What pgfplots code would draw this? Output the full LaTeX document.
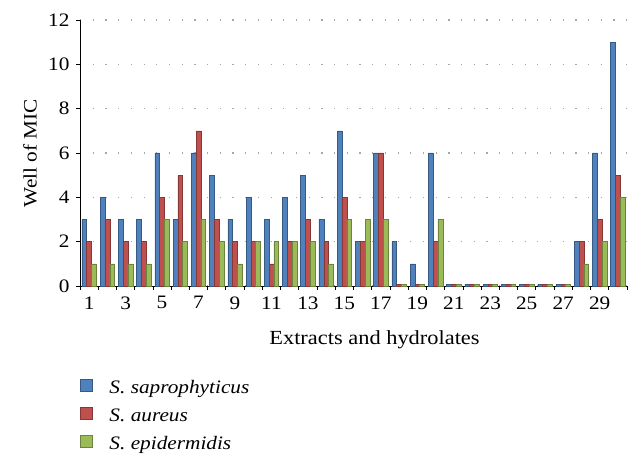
\documentclass[border=0pt]{standalone}
\usepackage{pgfplots}
\pgfplotsset{compat=1.18}
\usepackage{fontspec}
\setmainfont[FakeStretch=1.12]{Liberation Serif}
\definecolor{cb}{HTML}{4F81BD}
\definecolor{cr}{HTML}{C0504D}
\definecolor{cg}{HTML}{9BBB59}
\begin{document}
\fontsize{19}{23}\selectfont
\begin{tikzpicture}
\begin{axis}[
  name=ax,
  scale only axis, width=547pt, height=266pt,
  ybar=0pt, bar width=4.8pt,
  xmin=0.5, xmax=30.5, ymin=0, ymax=12,
  axis x line=bottom, axis y line=left,
  axis line style={-, black, line width=1pt},
  xtick={1,3,...,29}, major x tick style={draw=none},
  minor xtick={0.5,1.5,...,30.5},
  minor x tick style={black, line width=0.8pt},
  ytick={0,2,...,12},
  ytick style={black, line width=0.8pt},
  tick align=outside, major tick length=4pt, minor tick length=4pt,
  ymajorgrids, grid style={gray!70, dash pattern=on 1.2pt off 11.5pt, line width=1.2pt},
  /pgf/number format/assume math mode=true,
  ticklabel style={font=\fontsize{19}{23}\selectfont},
  ylabel={Well of MIC},
  ylabel style={font=\fontsize{19}{23}\selectfont, at={(axis description cs:0,0.5)}, anchor=center, yshift=50pt},
  xlabel={Extracts and hydrolates},
  xlabel style={font=\fontsize{20}{24}\selectfont, at={(axis description cs:0.5,0)}, anchor=center, xshift=21pt, yshift=-54pt},
  legend style={at={(axis description cs:0,0)}, anchor=north west, yshift=-93pt,
    draw=none, fill=none, inner sep=0pt, outer sep=0pt,
    font=\fontsize{19}{23}\selectfont\itshape, row sep=8pt,
    nodes={inner sep=0pt, text height=14pt, text depth=5pt},
    cells={anchor=west}},
  legend image code/.code={\fill[#1] (0pt,-2pt) rectangle (12pt,10pt); \path (29pt,0pt);},
]
\addplot[fill=cb, draw=cb!70!black, line width=0.5pt] coordinates {
(1,3)(2,4)(3,3)(4,3)(5,6)(6,3)(7,6)(8,5)(9,3)(10,4)
(11,3)(12,4)(13,5)(14,3)(15,7)(16,2)(17,6)(18,2)(19,1)(20,6)
(21,0.08)(22,0.08)(23,0.08)(24,0.08)(25,0.08)(26,0.08)(27,0.08)(28,2)(29,6)(30,11)};
\addplot[fill=cr, draw=cr!70!black, line width=0.5pt] coordinates {
(1,2)(2,3)(3,2)(4,2)(5,4)(6,5)(7,7)(8,3)(9,2)(10,2)
(11,1)(12,2)(13,3)(14,2)(15,4)(16,2)(17,6)(18,0.08)(19,0.08)(20,2)
(21,0.08)(22,0.08)(23,0.08)(24,0.08)(25,0.08)(26,0.08)(27,0.08)(28,2)(29,3)(30,5)};
\addplot[fill=cg, draw=cg!70!black, line width=0.5pt] coordinates {
(1,1)(2,1)(3,1)(4,1)(5,3)(6,2)(7,3)(8,2)(9,1)(10,2)
(11,2)(12,2)(13,2)(14,1)(15,3)(16,3)(17,3)(18,0.08)(19,0.08)(20,3)
(21,0.08)(22,0.08)(23,0.08)(24,0.08)(25,0.08)(26,0.08)(27,0.08)(28,1)(29,2)(30,4)};
\legend{S. saprophyticus, S. aureus, S. epidermidis}
\end{axis}
\pgfresetboundingbox
\path[use as bounding box] ([shift={(-80pt,-182pt)}]ax.south west) rectangle ([shift={(15pt,20pt)}]ax.north east);
\end{tikzpicture}
\end{document}
